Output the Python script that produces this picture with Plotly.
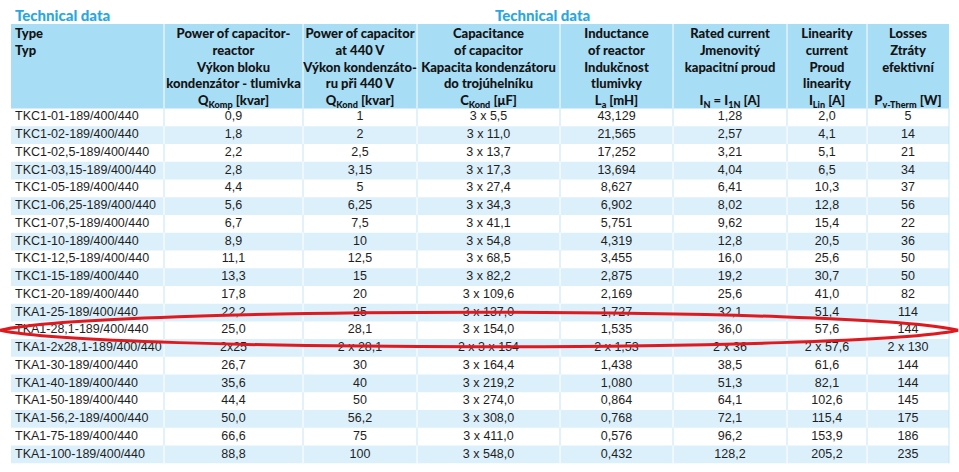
import plotly.graph_objects as go

# ---------------- data ----------------
header_lines = [
    ["Type", "Typ", "", "", ""],
    ["Power of capacitor-", "reactor", "Výkon bloku", "kondenzátor - tlumivka", "Q<sub>Komp</sub> [kvar]"],
    ["Power of capacitor", "at 440 V", "Výkon kondenzáto-", "ru při 440 V", "Q<sub>Kond</sub> [kvar]"],
    ["Capacitance", "of capacitor", "Kapacita kondenzátoru", "do trojúhelníku", "C<sub>Kond</sub> [μF]"],
    ["Inductance", "of reactor", "Indukčnost", "tlumivky", "L<sub>a</sub> [mH]"],
    ["Rated current", "Jmenovitý", "kapacitní proud", "", "I<sub>N</sub> = I<sub>1N</sub> [A]"],
    ["Linearity", "current", "Proud", "linearity", "I<sub>Lin</sub> [A]"],
    ["Losses", "Ztráty", "efektivní", "", "P<sub>v-Therm</sub> [W]"],
]
types = ["TKC1-01-189/400/440", "TKC1-02-189/400/440", "TKC1-02,5-189/400/440",
         "TKC1-03,15-189/400/440", "TKC1-05-189/400/440", "TKC1-06,25-189/400/440",
         "TKC1-07,5-189/400/440", "TKC1-10-189/400/440", "TKC1-12,5-189/400/440",
         "TKC1-15-189/400/440", "TKC1-20-189/400/440", "TKA1-25-189/400/440",
         "TKA1-28,1-189/400/440", "TKA1-2x28,1-189/400/440", "TKA1-30-189/400/440",
         "TKA1-40-189/400/440", "TKA1-50-189/400/440", "TKA1-56,2-189/400/440",
         "TKA1-75-189/400/440", "TKA1-100-189/400/440"]
q_komp = ["0,9", "1,8", "2,2", "2,8", "4,4", "5,6", "6,7", "8,9", "11,1", "13,3", "17,8",
          "22,2", "25,0", "2x25", "26,7", "35,6", "44,4", "50,0", "66,6", "88,8"]
q_kond = ["1", "2", "2,5", "3,15", "5", "6,25", "7,5", "10", "12,5", "15", "20",
          "25", "28,1", "2 x 28,1", "30", "40", "50", "56,2", "75", "100"]
c_kond = ["3 x 5,5", "3 x 11,0", "3 x 13,7", "3 x 17,3", "3 x 27,4", "3 x 34,3", "3 x 41,1",
          "3 x 54,8", "3 x 68,5", "3 x 82,2", "3 x 109,6", "3 x 137,0", "3 x 154,0",
          "2 x 3 x 154", "3 x 164,4", "3 x 219,2", "3 x 274,0", "3 x 308,0", "3 x 411,0",
          "3 x 548,0"]
l_a = ["43,129", "21,565", "17,252", "13,694", "8,627", "6,902", "5,751", "4,319", "3,455",
       "2,875", "2,169", "1,727", "1,535", "2 x 1,53", "1,438", "1,080", "0,864", "0,768",
       "0,576", "0,432"]
i_n = ["1,28", "2,57", "3,21", "4,04", "6,41", "8,02", "9,62", "12,8", "16,0", "19,2", "25,6",
       "32,1", "36,0", "2 x 36", "38,5", "51,3", "64,1", "72,1", "96,2", "128,2"]
i_lin = ["2,0", "4,1", "5,1", "6,5", "10,3", "12,8", "15,4", "20,5", "25,6", "30,7", "41,0",
         "51,4", "57,6", "2 x 57,6", "61,6", "82,1", "102,6", "115,4", "153,9", "205,2"]
losses = ["5", "14", "21", "34", "37", "56", "22", "36", "50", "50", "82", "114", "144",
          "2 x 130", "144", "144", "145", "175", "186", "235"]
highlight_type = "TKA1-28,1-189/400/440"
title_text = "Technical data"

columns = [types, q_komp, q_kond, c_kond, l_a, i_n, i_lin, losses]

# ---------------- layout / style ----------------
W, H = 959, 472
HEAD_FONT = "Lato, DejaVu Sans Condensed, sans-serif"
BODY_FONT = "Liberation Sans, Arial, sans-serif"
header_fill = "#a8ddf6"
stripe = "#dcf0fb"
sep_on_white = "#c6e5f5"
title_color = "#29a7df"
col_edges = [11, 164, 303, 417, 560, 673, 787, 867, 949]
table_top, header_bottom, row_h = 24, 108.5, 17.74
head_line0, head_line_step = 34.5, 16.9
left_pad = 4

n = len(types)


def row_center(i):
    return header_bottom + (i + 0.5) * row_h


fig = go.Figure()
shapes = []

# header background + white separators
shapes.append(dict(type="rect", xref="x", yref="y", layer="below",
                   x0=col_edges[0], x1=col_edges[-1], y0=table_top, y1=header_bottom,
                   fillcolor=header_fill, line=dict(width=0)))
for xe in col_edges[1:-1]:
    shapes.append(dict(type="line", xref="x", yref="y", layer="below",
                       x0=xe, x1=xe, y0=table_top, y1=header_bottom,
                       line=dict(color="white", width=1)))

# row stripes and separators
for i in range(n):
    y0, y1 = header_bottom + i * row_h, header_bottom + (i + 1) * row_h
    blue = i % 2 == 1
    if blue:
        shapes.append(dict(type="rect", xref="x", yref="y", layer="below",
                           x0=col_edges[0], x1=col_edges[-1], y0=y0, y1=y1,
                           fillcolor=stripe, line=dict(width=0)))
    for xe in col_edges[1:]:
        shapes.append(dict(type="line", xref="x", yref="y", layer="below",
                           x0=xe, x1=xe, y0=y0, y1=y1,
                           line=dict(color="white" if (blue and xe != col_edges[-1]) else sep_on_white,
                                     width=1)))

# header texts
for j, lines in enumerate(header_lines):
    ks = [k for k, t in enumerate(lines) if t]
    if j == 0:
        x = col_edges[0] + left_pad
        pos = "middle right"
    else:
        x = (col_edges[j] + col_edges[j + 1]) / 2
        pos = "middle center"
    fig.add_trace(go.Scatter(
        x=[x] * len(ks), y=[head_line0 + k * head_line_step for k in ks],
        text=[lines[k] for k in ks],
        mode="text", textposition=pos, hoverinfo="skip", showlegend=False,
        textfont=dict(family=HEAD_FONT, size=13, color="#141414", weight=900),
    ))

# body texts
for j, vals in enumerate(columns):
    if j == 0:
        x = col_edges[0] + left_pad
        pos = "middle right"
    else:
        x = (col_edges[j] + col_edges[j + 1]) / 2
        pos = "middle center"
    fig.add_trace(go.Scatter(
        x=[x] * n, y=[row_center(i) for i in range(n)], text=vals,
        mode="text", textposition=pos, hoverinfo="skip", showlegend=False,
        textfont=dict(family=BODY_FONT, size=12.5, color="#1e1e1e"),
    ))

# titles
for xl in (13, 493):
    fig.add_annotation(x=xl, y=14.5, xref="x", yref="y", text=title_text,
                       showarrow=False, xanchor="left", yanchor="middle",
                       font=dict(family=HEAD_FONT, size=15, color=title_color, weight=900))

# red hand-drawn highlight around one row
hi = types.index(highlight_type)
cy = row_center(hi)
path = (f"M 0,{cy} C 100,{cy - 24} 860,{cy - 24} 958,{cy} "
        f"C 860,{cy + 22} 100,{cy + 22} 0,{cy} Z")
shapes.append(dict(type="path", xref="x", yref="y", path=path, layer="above",
                   line=dict(color="#e0191e", width=3)))

fig.update_layout(
    width=W, height=H, margin=dict(l=0, r=0, t=0, b=0),
    paper_bgcolor="white", plot_bgcolor="white",
    xaxis=dict(range=[0, W], visible=False, fixedrange=True),
    yaxis=dict(range=[H, 0], visible=False, fixedrange=True),
    shapes=shapes,
)
fig.write_html("out.html", config={"displayModeBar": False},
               post_script="document.body.style.margin='0';document.body.style.overflow='hidden';")
